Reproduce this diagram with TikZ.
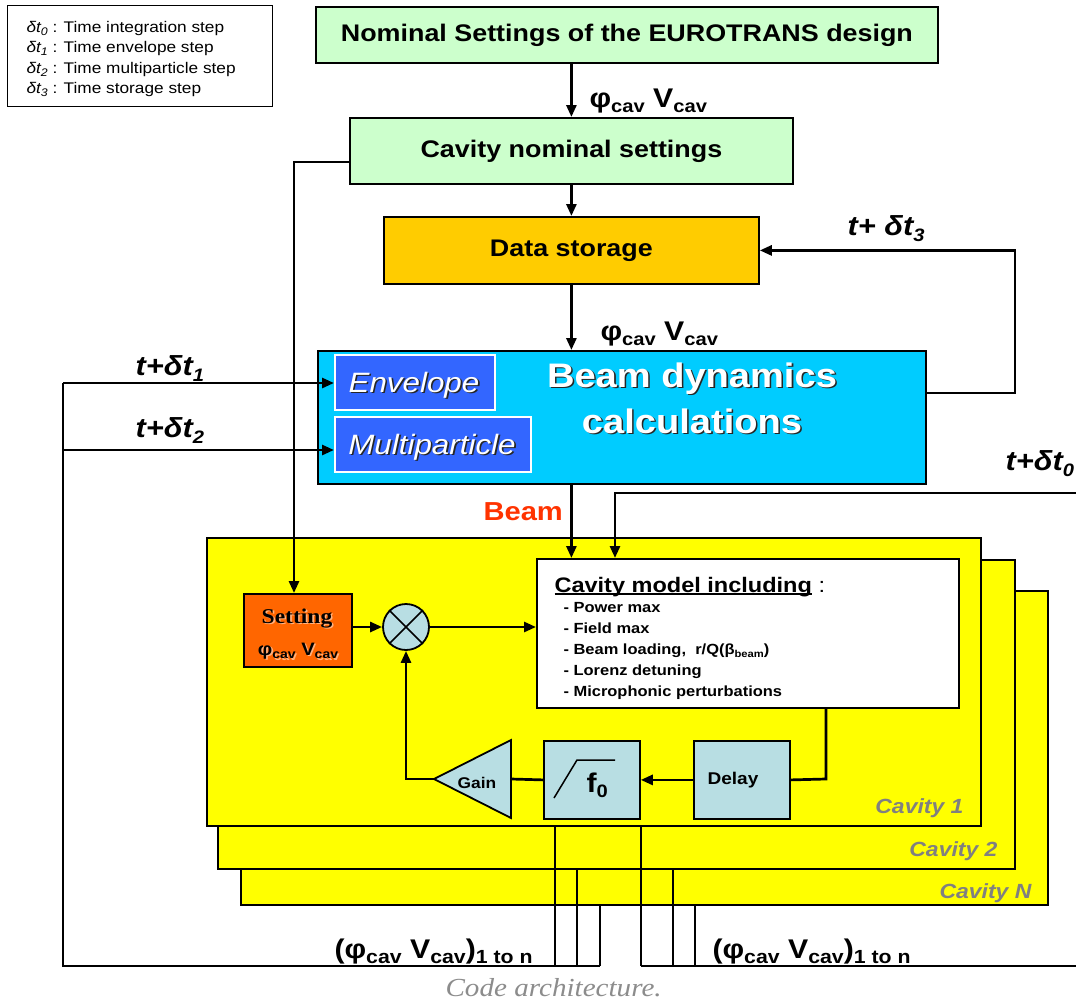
\documentclass[tikz,border=0pt]{standalone}
\usepackage{fontspec}
\setmainfont{Liberation Sans}[FakeStretch=1.12]
\newfontfamily\tmsfont{Liberation Serif}[FakeStretch=1.12]
\usetikzlibrary{arrows.meta,calc}

\definecolor{paleGreen}{HTML}{CCFFCC}
\definecolor{storageGold}{HTML}{FFCC00}
\definecolor{beamCyan}{HTML}{00CCFF}
\definecolor{codeBlue}{HTML}{3366FF}
\definecolor{cavYellow}{HTML}{FFFF00}
\definecolor{setOrange}{HTML}{FF6600}
\definecolor{setShadow}{HTML}{FFB27F}
\definecolor{blockTeal}{HTML}{B8DEE3}
\definecolor{beamRed}{HTML}{FF3300}
\definecolor{labelGray}{HTML}{808080}
\definecolor{captionGray}{HTML}{8C8C8C}

\newcommand\fsz[1]{\fontsize{#1}{#1}\selectfont}
\newcommand\lowsub[2]{\raisebox{-0.22em}{\fsz{#1}#2}}
\newcommand\ulbox[1]{\setbox0\hbox{#1}\rlap{\rule[-2.6pt]{\wd0}{1.5pt}}\box0}
% text with a drop shadow: name, position, style, shadow colour, text
\newcommand\shadowlabel[5]{%
  \node[#3,text=#4] at ($(#2)+(1.6,1.6)$) {#5};
  \node[#3] (#1) at (#2) {#5};}

\begin{document}
\begin{tikzpicture}[x=1pt,y=-1pt,
  wire/.style={line width=2.7pt},
  arrowwire/.style={wire,-{Triangle[length=12pt,width=10pt]}},
  blockbox/.style={draw=black,line width=1.8pt,inner sep=0pt,anchor=north west},
  cavbox/.style={blockbox,fill=cavYellow,line width=2pt},
  codebox/.style={blockbox,fill=codeBlue,draw=white,line width=1.6pt},
  legtext/.style={anchor=base west,font=\fsz{15.4}},
  steplabel/.style={anchor=base west,font=\fsz{27.5}\bfseries\itshape},
  phaselabel/.style={anchor=base west,font=\fsz{27}\bfseries},
  listitem/.style={anchor=base west,font=\fsz{14.7}\bfseries},
  cavlabel/.style={anchor=base east,font=\fsz{20.5}\bfseries\itshape,text=labelGray}]

\fill[white] (0,0) rectangle (1076,1001);
\useasboundingbox (0,0) rectangle (1076,1001);

% legend of the time steps
\node[draw=black,line width=0.8pt,inner sep=0pt,anchor=north west,
      minimum width=265pt,minimum height=101pt] (legend) at (7,5) {};
\node[legtext] (leg0) at (23,32) {\textit{δt\lowsub{11}{0}} : Time integration step};
\node[legtext] (leg1) at (23,52.5) {\textit{δt\lowsub{11}{1}} : Time envelope step};
\node[legtext] (leg2) at (23,73) {\textit{δt\lowsub{11}{2}} : Time multiparticle step};
\node[legtext] (leg3) at (23,93.5) {\textit{δt\lowsub{11}{3}} : Time storage step};

% upper chain
\node[blockbox,fill=paleGreen,minimum width=622pt,minimum height=56pt,
      font=\fsz{24}\bfseries] (nominal) at (315,6) {Nominal Settings of the EUROTRANS design};
\node[blockbox,fill=paleGreen,minimum width=443pt,minimum height=66pt,
      font=\fsz{24}\bfseries] (cavnom) at (349,117) {Cavity nominal settings};
\node[blockbox,fill=storageGold,minimum width=375pt,minimum height=67pt,
      font=\fsz{24}\bfseries] (storage) at (383,216) {Data storage};

% beam dynamics block
\node[blockbox,fill=beamCyan,minimum width=608pt,minimum height=133pt] (beamdyn) at (317,350) {};
\node[codebox,minimum width=160pt,minimum height=55pt] (envelope) at (334,354) {};
\node[codebox,minimum width=196pt,minimum height=55pt] (multi) at (334,416) {};
\shadowlabel{envtxt}{414,392}{anchor=base,font=\fsz{28}\itshape,text=white}{black!85}{Envelope}
\shadowlabel{multitxt}{432,454}{anchor=base,font=\fsz{28}\itshape,text=white}{black!85}{Multiparticle}
\shadowlabel{bd1}{692,387}{anchor=base,font=\fsz{34}\bfseries,text=white}{black!85}{Beam dynamics}
\shadowlabel{bd2}{692,433}{anchor=base,font=\fsz{34}\bfseries,text=white}{black!85}{calculations}

% stacked cavities
\node[cavbox,minimum width=807pt,minimum height=314pt] (cavN) at (240,590) {};
\node[cavbox,minimum width=797pt,minimum height=309pt] (cav2) at (217,559) {};
\node[cavbox,minimum width=774pt,minimum height=288pt] (cav1) at (206,537) {};
\node[cavlabel] (labN) at (1035,898) {Cavity N};
\node[cavlabel] (lab2) at (1001,856) {Cavity 2};
\node[cavlabel] (lab1) at (967,813) {Cavity 1};

% cavity model
\node[blockbox,fill=white,line width=1.5pt,minimum width=422pt,minimum height=149pt] (model) at (536,558) {};
\node[anchor=base west,font=\fsz{21}] (mdl0) at (551,592) {\ulbox{\bfseries Cavity model including}\ :};
\node[listitem] (mdl1) at (560,612) {- Power max};
\node[listitem] (mdl2) at (560,633) {- Field max};
\node[listitem] (mdl3) at (560,654) {- Beam loading,\ \ r/Q(β\lowsub{10}{beam})};
\node[listitem] (mdl4) at (560,675) {- Lorenz detuning};
\node[listitem] (mdl5) at (560,696) {- Microphonic perturbations};

% regulation loop
\node[blockbox,fill=setOrange,minimum width=108pt,minimum height=73pt] (setting) at (243,593) {};
\shadowlabel{set1}{297,623}{anchor=base,font=\tmsfont\fsz{21}\bfseries,text=black}{setShadow}{Setting}
\shadowlabel{set2}{298,655}{anchor=base,font=\fsz{18}\bfseries,text=black}{setShadow}{φ\lowsub{12.5}{cav} V\lowsub{12.5}{cav}}

\node[circle,draw=black,fill=blockTeal,line width=1.8pt,minimum size=46pt,inner sep=0pt] (mix) at (406,627) {};
\draw[line width=1.5pt] (mix.north west) -- (mix.south east) (mix.north east) -- (mix.south west);

\coordinate (gaintip) at (434,779);
\coordinate (gainbase) at (511,779);
\draw[fill=blockTeal,line width=1.8pt,line join=miter] (gaintip) -- (511,740) -- (511,818) -- cycle;
\node[anchor=base,font=\fsz{15.5}\bfseries] (gain) at (477,788) {Gain};

\node[blockbox,fill=blockTeal,minimum width=96pt,minimum height=78pt] (filter) at (543,740) {};
\draw[line width=1.5pt] (554,798) -- (577,760) -- (615,760);
\node[anchor=base west,font=\fsz{27}\bfseries] (fzero) at (583,792) {f\lowsub{18}{0}};

\node[blockbox,fill=blockTeal,minimum width=96pt,minimum height=78pt] (delay) at (693,740) {};
\node[anchor=base,font=\fsz{17}\bfseries] (delaytxt) at (733,784) {Delay};

% connectors of the upper chain
\draw[arrowwire] (storage |- nominal.south) -- (storage |- cavnom.north);
\draw[arrowwire] (storage |- cavnom.south) -- (storage.north);
\draw[arrowwire] (storage.south) -- (storage |- beamdyn.north);
\draw[arrowwire] (storage |- beamdyn.south) -- (storage |- model.north);

\coordinate (t3turn) at (1015,393);
\draw[arrowwire] (t3turn -| beamdyn.east) -- (t3turn) |- (storage.east);

\coordinate (t0src) at (1076,493);
\coordinate (t0turn) at (615,493);
\draw[arrowwire] (t0src) -- (t0turn) -- (t0turn |- model.north);

\coordinate (setturn) at (294,162);
\draw[arrowwire] (setturn -| cavnom.west) -- (setturn) -- (setturn |- setting.north);

% loop connectors
\draw[arrowwire] (setting.east |- mix.west) -- (mix.west);
\draw[arrowwire] (mix.east) -- (mix.east -| model.west);
\coordinate (mdrop) at (826,779);
\draw[wire] (mdrop |- model.south) -- (mdrop) -- (delay.east);
\draw[arrowwire] (delay.west) -- (filter.east);
\draw[wire] (filter.west) -- (gainbase);
\draw[arrowwire] (gaintip) -| (mix.south);

% outputs of the cavities back to the time loops
\coordinate (lt1) at (63,383);
\coordinate (lt2) at (63,450);
\coordinate (busL) at (63,966);
\coordinate (busA) at (555,966);
\coordinate (busB) at (577,966);
\coordinate (busC) at (600,966);
\coordinate (busD) at (641,966);
\coordinate (busE) at (673,966);
\coordinate (busF) at (695,966);
\coordinate (busR) at (1076,966);
\draw[arrowwire] (lt1) -- (lt1 -| envelope.west);
\draw[arrowwire] (lt2) -- (lt2 -| multi.west);
\draw[wire] (lt1) -- (busL) -- (busC);
\draw[wire] (busD) -- (busR);
\draw[wire] (busA |- cav1.south) -- (busA);
\draw[wire] (busB |- cav2.south) -- (busB);
\draw[wire] (busC |- cavN.south) -- (busC);
\draw[wire] (busD |- cav1.south) -- (busD);
\draw[wire] (busE |- cav2.south) -- (busE);
\draw[wire] (busF |- cavN.south) -- (busF);

% labels
\node[phaselabel] (phiA) at (586,107) {φ\lowsub{18}{cav} V\lowsub{18}{cav}};
\node[phaselabel] (phiB) at (597,340) {φ\lowsub{18}{cav} V\lowsub{18}{cav}};
\node[anchor=base west,font=\fsz{26}\bfseries,text=beamRed] (beamlbl) at (480,520) {Beam};
\node[steplabel] (lbl1) at (132,375) {t+δt\lowsub{18}{1}};
\node[steplabel] (lbl2) at (132,437) {t+δt\lowsub{18}{2}};
\node[steplabel] (lbl3) at (844,235) {t+ δt\lowsub{18}{3}};
\node[steplabel] (lbl0) at (1002,470) {t+δt\lowsub{18}{0}};
\node[phaselabel] (outA) at (331,958) {(φ\lowsub{19}{cav} V\lowsub{19}{cav})\lowsub{19}{1 to n}};
\node[phaselabel] (outB) at (709,958) {(φ\lowsub{19}{cav} V\lowsub{19}{cav})\lowsub{19}{1 to n}};

\node[anchor=base west,font=\tmsfont\itshape\fsz{26},text=captionGray] (caption) at (442,996) {Code architecture.};
\end{tikzpicture}
\end{document}
